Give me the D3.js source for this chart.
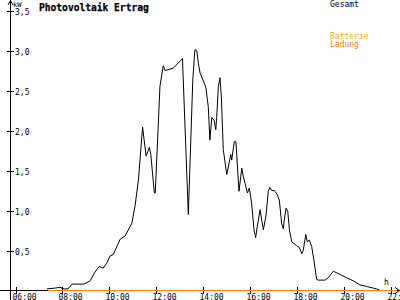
<!DOCTYPE html>
<html><head><meta charset="utf-8">
<script src="https://cdn.jsdelivr.net/npm/d3@7"></script>
<style>html,body{margin:0;padding:0;background:#fff;overflow:hidden}svg{display:block}</style>
</head><body>
<svg id="c" width="400" height="300"></svg>
<script>
// Time of day (decimal hours) and PV output (kW) for "Gesamt"
const gesamtHours = [7.34,7.68,7.90,8.07,8.24,8.41,8.92,9.18,9.39,9.57,9.74,9.89,10.03,10.17,10.46,10.67,10.96,11.10,11.24,11.42,11.57,11.71,11.77,11.92,11.96,12.16,12.30,12.38,12.73,13.09,13.12,13.37,13.56,13.65,13.73,13.80,13.87,14.08,14.12,14.22,14.29,14.37,14.47,14.54,14.58,14.65,14.72,14.78,14.86,15.01,15.18,15.22,15.33,15.40,15.53,15.65,15.71,15.79,15.89,15.97,16.07,16.17,16.24,16.31,16.43,16.50,16.57,16.68,16.78,16.85,16.93,17.04,17.16,17.25,17.35,17.42,17.46,17.54,17.61,17.68,17.78,17.99,18.10,18.21,18.27,18.38,18.44,18.53,18.63,18.73,18.84,18.91,19.20,19.34,19.55,19.63,19.84,20.12,20.41,20.69,20.98,21.40,21.54];
const gesamtKW = [0.02,0.03,0.04,0.02,0.02,0.08,0.08,0.12,0.23,0.30,0.28,0.34,0.43,0.45,0.64,0.68,0.84,1.06,1.38,2.04,1.68,1.79,1.70,1.22,1.22,2.55,2.81,2.75,2.78,2.89,2.90,0.95,2.63,3.01,3.00,2.84,2.72,2.57,2.53,2.30,1.88,2.16,2.13,2.01,2.16,2.55,2.66,2.41,1.76,1.45,1.70,1.63,1.86,1.86,1.24,1.53,1.43,1.34,1.22,1.28,1.09,0.76,0.66,0.80,1.01,0.88,0.76,0.93,1.24,1.29,1.25,1.25,1.20,1.13,0.84,0.77,0.88,1.03,0.99,0.76,0.61,0.56,0.54,0.46,0.50,0.70,0.61,0.63,0.55,0.37,0.14,0.13,0.13,0.16,0.24,0.23,0.20,0.16,0.12,0.07,0.05,0.02,0.00];
// Battery charge ("Ladung") series
const ladungHours = [7.39, 22.26];
const ladungKW = [0, 0];
// Axis ticks
const xTickHours = [6,8,10,12,14,16,18,20,22];
const xTickLabels = ["06:00","08:00","10:00","12:00","14:00","16:00","18:00","20:00","22:00"];
const yTickValues = [0.5,1.0,1.5,2.0,2.5,3.0,3.5];
const yTickLabels = ["0,5","1,0","1,5","2,0","2,5","3,0","3,5"];

const svg = d3.select("#c");
const x = d3.scaleLinear().domain([6,22]).range([15.5,390.7]);
const y = d3.scaleLinear().domain([0,3.5]).range([290.5,10.5]);
const mono = "'DejaVu Sans Mono', monospace";

// x axis line
svg.append("line").attr("x1",0).attr("x2",400).attr("y1",290.5).attr("y2",290.5)
  .attr("stroke","#000").attr("shape-rendering","crispEdges");
// y axis line
svg.append("line").attr("x1",10.5).attr("x2",10.5).attr("y1",0).attr("y2",300)
  .attr("stroke","#000").attr("shape-rendering","crispEdges");
// arrows
svg.append("path").attr("d","M8,5 L10.5,0.5 L13,5").attr("fill","none").attr("stroke","#000");
svg.append("path").attr("d","M395,287.5 L399.5,290.5 L395,293.5").attr("fill","none").attr("stroke","#000");

// x ticks
const xt = svg.append("g");
xTickHours.forEach((h,i)=>{
  const px = Math.round(x(h))+0.5;
  xt.append("line").attr("x1",px).attr("x2",px).attr("y1",287).attr("y2",294)
    .attr("stroke","#000").attr("shape-rendering","crispEdges");
  xt.append("text").attr("x",px-4).attr("y",299.5).attr("font-family",mono)
    .attr("font-size","8px").attr("fill","#000").text(xTickLabels[i]);
});
// y ticks
const yt = svg.append("g");
yTickValues.forEach((v,i)=>{
  const py = Math.round(y(v))+0.5;
  yt.append("line").attr("x1",7).attr("x2",14).attr("y1",py).attr("y2",py)
    .attr("stroke","#000").attr("shape-rendering","crispEdges");
  yt.append("text").attr("x",15).attr("y",py+3).attr("font-family",mono)
    .attr("font-size","8px").attr("fill","#000").text(yTickLabels[i]);
});

// units
svg.append("text").attr("x",13).attr("y",6.5).attr("font-family",mono).attr("font-size","7px").text("kW");
svg.append("text").attr("x",384).attr("y",285).attr("font-family",mono).attr("font-size","8px").text("h");

// title & legend
svg.append("text").attr("x",39).attr("y",11).attr("font-family",mono).attr("font-weight","bold")
  .attr("font-size","9.6px").attr("fill","#000").attr("stroke","#000").attr("stroke-width",0.25)
  .text("Photovoltaik Ertrag");
svg.append("text").attr("x",330).attr("y",7).attr("font-family",mono).attr("font-size","8px").attr("fill","#000").text("Gesamt");
svg.append("text").attr("x",330).attr("y",38.5).attr("font-family",mono).attr("font-size","8px").attr("fill","#ffb000").text("Batterie");
svg.append("text").attr("x",330).attr("y",46.5).attr("font-family",mono).attr("font-size","8px").attr("fill","#ff8000").text("Ladung");

// lines
const line = d3.line().x(d=>x(d[0])).y(d=>y(d[1]));
svg.append("path").datum(gesamtHours.map((h,i)=>[h,gesamtKW[i]]))
  .attr("d",line).attr("fill","none").attr("stroke","#000").attr("stroke-width",1);
svg.append("path").datum(ladungHours.map((h,i)=>[h,ladungKW[i]]))
  .attr("d",line).attr("fill","none").attr("stroke","#ff8000").attr("stroke-width",1.2)
  .attr("shape-rendering","crispEdges");
</script>
</body></html>
